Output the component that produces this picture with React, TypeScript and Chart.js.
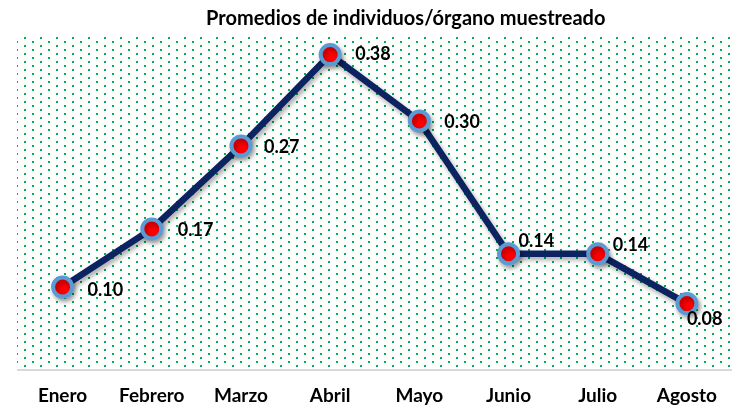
import React, { useEffect, useRef } from "react";
import { Chart, registerables } from "chart.js";

Chart.register(...registerables);

const months = ["Enero", "Febrero", "Marzo", "Abril", "Mayo", "Junio", "Julio", "Agosto"];
const promedios = [0.1, 0.17, 0.27, 0.38, 0.3, 0.14, 0.14, 0.08];
const valueLabels = ["0.10", "0.17", "0.27", "0.38", "0.30", "0.14", "0.14", "0.08"];
const chartTitle = "Promedios de individuos/órgano muestreado";

const FONT = "Lato, 'Open Sans', sans-serif";

export default function App() {
  const ref = useRef<HTMLCanvasElement | null>(null);

  useEffect(() => {
    document.body.style.margin = "0";
    const canvas = ref.current;
    if (!canvas) return;

    // dotted background pattern
    const tile = document.createElement("canvas");
    tile.width = 16;
    tile.height = 8;
    const tctx = tile.getContext("2d")!;
    tctx.fillStyle = "#00B050";
    tctx.fillRect(0, 1, 2, 2);
    tctx.fillRect(8, 5, 2, 2);

    const bgPlugin = {
      id: "dotBg",
      beforeDraw(chart: any) {
        const { ctx, chartArea } = chart;
        const pat = ctx.createPattern(tile, "repeat");
        ctx.save();
        ctx.fillStyle = pat;
        ctx.fillRect(chartArea.left - 1, chartArea.top - 2, chartArea.right - chartArea.left + 1, chartArea.bottom - chartArea.top);
        ctx.restore();
      },
    };

    const titlePlugin = {
      id: "customTitle",
      afterDraw(chart: any) {
        const { ctx, chartArea } = chart;
        ctx.save();
        ctx.font = `bold 20px ${FONT}`;
        ctx.fillStyle = "#000";
        ctx.textAlign = "center";
        ctx.textBaseline = "middle";
        ctx.fillText(chartTitle, (chartArea.left + chartArea.right) / 2 + 31, 19);
        ctx.restore();
      },
    };

    const shadowPlugin = {
      id: "lineShadow",
      beforeDatasetsDraw(chart: any) {
        const ctx = chart.ctx;
        ctx.save();
        ctx.shadowColor = "rgba(0,0,0,0.35)";
        ctx.shadowBlur = 5;
        ctx.shadowOffsetX = 2;
        ctx.shadowOffsetY = 3;
      },
      afterDatasetsDraw(chart: any) {
        chart.ctx.restore();
      },
    };

    const labelOffsets = [
      [25, 3],
      [26, 1],
      [23, 1],
      [25, 0],
      [25, 1],
      [10, -13],
      [15, -9],
      [0, 16],
    ];

    const labelPlugin = {
      id: "valueLabels",
      afterDatasetsDraw(chart: any) {
        const { ctx } = chart;
        const meta = chart.getDatasetMeta(0);
        ctx.save();
        ctx.font = `bold 18px ${FONT}`;
        ctx.fillStyle = "#000";
        ctx.textAlign = "left";
        ctx.textBaseline = "middle";
        meta.data.forEach((pt: any, i: number) => {
          const [dx, dy] = labelOffsets[i];
          ctx.fillText(valueLabels[i], pt.x + dx, pt.y + dy);
        });
        ctx.restore();
      },
    };

    const chart = new Chart(canvas, {
      type: "line",
      data: {
        labels: months,
        datasets: [
          {
            data: promedios,
            borderColor: "#0B2461",
            borderWidth: 6.5,
            pointRadius: 9.5,
            pointBorderWidth: 4,
            pointBackgroundColor: "#FF0000",
            pointBorderColor: "#5B9BD5",
            tension: 0,
          },
        ],
      },
      options: {
        responsive: false,
        animation: false,
        layout: { padding: { left: 18, right: 0, top: 38, bottom: 0 } },
        plugins: {
          legend: { display: false },
          title: { display: false },
          tooltip: { enabled: false },
        },
        scales: {
          x: {
            offset: true,
            grid: { display: false, drawTicks: false },
            border: { display: true, color: "#D9D9D9", width: 2 },
            ticks: {
              color: "#000",
              font: { family: FONT, size: 19, weight: "bold" },
              padding: 14,
              maxRotation: 0,
              autoSkip: false,
            },
            afterFit(scale: any) {
              scale.height = 37;
            },
          },
          y: {
            display: false,
            min: 0,
            max: 0.4,
          },
        },
      },
      plugins: [bgPlugin, shadowPlugin, labelPlugin, titlePlugin],
    });

    return () => chart.destroy();
  }, []);

  return (
    <div style={{ width: 745, height: 407 }}>
      <canvas ref={ref} width={745} height={407} />
    </div>
  );
}
